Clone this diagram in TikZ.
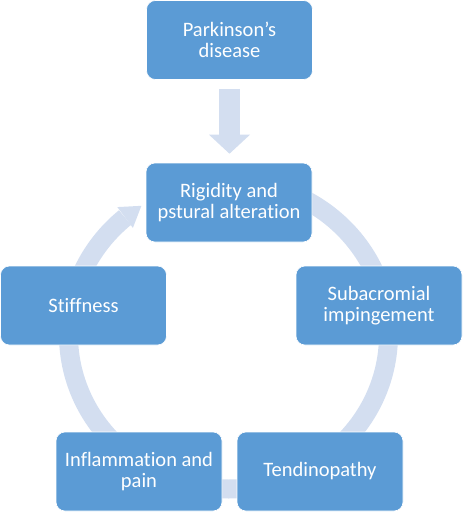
\documentclass[tikz,border=0pt]{standalone}
\usepackage{fontspec}
\setmainfont{Carlito}[Ligatures=NoCommon]
\usetikzlibrary{arrows.meta,backgrounds}
\definecolor{boxblue}{HTML}{5B9BD5}
\definecolor{ringblue}{HTML}{D3DEF0}
\tikzset{
  box/.style={rectangle, rounded corners=9pt, fill=boxblue, draw=white, line width=0.6pt,
    minimum width=166pt, minimum height=79pt, inner sep=2pt, align=center, text=white,
    font=\fontsize{20.5}{21}\selectfont},
  ring/.style={draw=ringblue, line width=19pt},
  blockarrow/.style={draw=ringblue, line width=21pt,
    -{Triangle[width=41pt,length=19pt,line width=0pt,fill=ringblue]}}
}
\begin{document}
\begin{tikzpicture}[x=1pt,y=-1pt]
\useasboundingbox (0,0) rectangle (463,512);
\node[box] (park) at (229.5,40)  {Parkinson’s\\disease};
\node[box] (rig)  at (229,202.5) {Rigidity and\\pstural alteration};
\node[box] (stiff) at (83.5,305.5) {Stiffness};
\node[box] (sub)  at (379,305.5) {Subacromial\\impingement};
\node[box] (infl) at (139,471.5) {Inflammation and\\pain};
\node[box] (tend) at (320,471.5) {Tendinopathy};
\begin{scope}[on background layer]
  % cycle ring
  \draw[ring] plot[domain=-90:229.7, samples=200, smooth] ({228.5+160*cos(\x)},{335+154*sin(\x)});
  \fill[ringblue] (141.4,205.8) -- (132.9,227.9) -- (117.3,207.1) -- cycle;
  % block arrow
  \draw[blockarrow, shorten <=9pt, shorten >=9pt] (park.south) -- (park.south |- rig.north);
\end{scope}
\end{tikzpicture}
\end{document}
